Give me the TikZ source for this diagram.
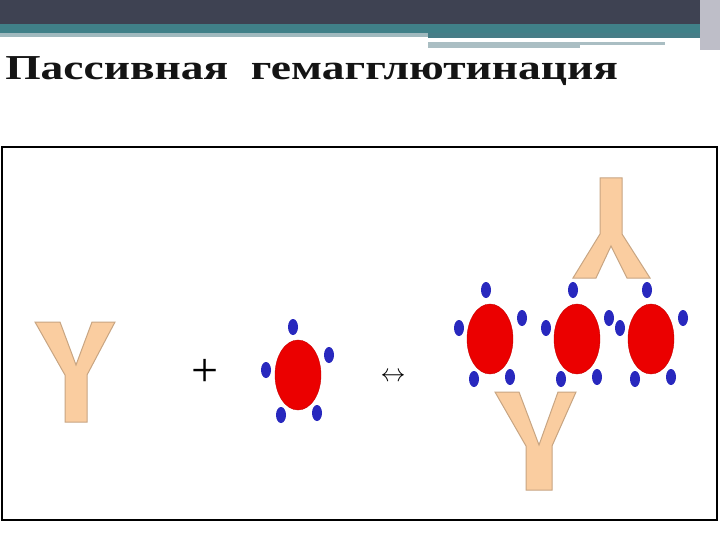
\documentclass[tikz,border=0pt]{standalone}
\usepackage{fontspec}
\setmainfont{Liberation Serif}
\definecolor{tan}{RGB}{250,205,160}
\definecolor{tanedge}{RGB}{200,165,130}
\definecolor{cellred}{RGB}{235,0,0}
\definecolor{celledge}{RGB}{200,0,0}
\definecolor{dotblue}{RGB}{40,40,190}
\definecolor{slate}{RGB}{62,66,82}
\definecolor{teal1}{RGB}{64,128,136}
\definecolor{lt1}{RGB}{160,185,190}
\definecolor{teal2}{RGB}{70,125,135}
\definecolor{lt2}{RGB}{170,190,195}
\definecolor{lt3}{RGB}{190,190,200}
\definecolor{titlec}{RGB}{20,20,20}
\begin{document}
\begin{tikzpicture}[x=1pt,y=-1pt,
  ab/.style={fill=tan,draw=tanedge,line width=1pt},
  cell/.style={fill=cellred,draw=celledge,x radius=23,y radius=35},
  dot/.style={fill=dotblue,x radius=5,y radius=8}]
\useasboundingbox (0,0) rectangle (720,540);
\fill[white] (0,0) rectangle (720,540);
\fill[slate] (0,0) rectangle (720,24);
\fill[teal1] (0,24) rectangle (720,33);
\fill[lt1] (0,33) rectangle (428,37);
\fill[teal2] (428,33) rectangle (700,38);
\fill[lt2] (428,42) rectangle (665,45);
\fill[lt2] (428,45) rectangle (580,48);
\fill[lt3] (700,0) rectangle (720,50);
\node[anchor=base west,inner sep=0,xscale=1.3,font=\bfseries\fontsize{35}{38}\selectfont,text=titlec] (title) at (5,80) {Пассивная\ \ гемагглютинация};
\draw[line width=2pt] (2,147) rectangle (717,520);
% left Y
\filldraw[ab] (35,322) -- (60,322) -- (76,365) -- (92,322) -- (115,322) -- (87,375) -- (87,422) -- (65,422) -- (65,375) -- cycle;
\node[font=\fontsize{48}{48}\selectfont] (plus) at (205,373) {+};
\fill[cell] (298,375) ellipse [];
\foreach \p in {(293,327),(329,355),(266,370),(281,415),(317,413)} \fill[dot] \p ellipse [];
\node[font=\fontsize{40}{40}\selectfont] (arr) at (393,377) {$\leftrightarrow$};
% right complex
\foreach \cx in {490,577,651}{
  \fill[cell] (\cx,339) ellipse [];
  \foreach \dx/\dy in {-4/290,32/318,-31/328,-16/379,20/377} \fill[dot] (\cx+\dx,\dy) ellipse [];
}
\filldraw[ab] (600,178) -- (622,178) -- (622,234) -- (650,278) -- (627,278) -- (611,246) -- (596,278) -- (573,278) -- (600,234) -- cycle;
\filldraw[ab] (495,392) -- (519,392) -- (539,445) -- (558,392) -- (576,392) -- (552,446) -- (552,490) -- (526,490) -- (526,446) -- cycle;
\end{tikzpicture}
\end{document}
